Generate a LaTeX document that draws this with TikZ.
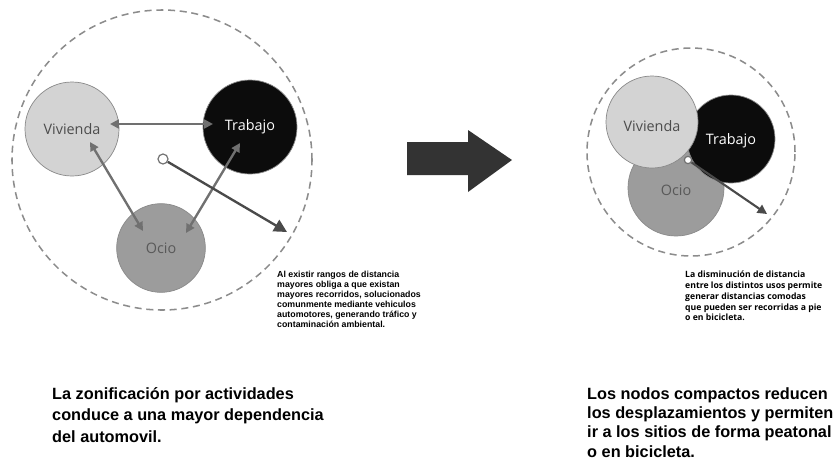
\documentclass[tikz,border=0pt]{standalone}
\usepackage{fontspec}
\usepackage{tikz}
\usetikzlibrary{arrows.meta}
\newfontfamily\labelfont{Open Sans}
\newfontfamily\capfont{Liberation Sans}
\definecolor{lightuse}{HTML}{D3D3D3}
\definecolor{darkuse}{HTML}{0C0C0C}
\definecolor{miduse}{HTML}{9C9C9C}
\definecolor{rimgray}{HTML}{8A8A8A}
\definecolor{dashgray}{HTML}{8C8C8C}
\definecolor{linkgray}{HTML}{707070}
\definecolor{cargray}{HTML}{4A4A4A}
\definecolor{bigarrow}{HTML}{333333}

\begin{document}
\begin{tikzpicture}[x=0.03cm, y=-0.03cm,
    zone/.style={circle, draw=dashgray, line width=1.3pt, dash pattern=on 6pt off 4pt},
    landuse/.style={circle, draw=rimgray, line width=0.6pt, inner sep=0pt,
        font=\labelfont\fontsize{12.3}{14}\selectfont},
    hub/.style={circle, draw=linkgray, fill=white, line width=1pt, inner sep=0pt},
    link/.style={draw=linkgray, line width=2pt,
        {Triangle[length=7.5pt,width=7.5pt]}-{Triangle[length=7.5pt,width=7.5pt]}},
    car/.style={draw=cargray, line width=2pt, -{Triangle[length=11pt,width=11pt]}},
    note/.style={anchor=north west, inner sep=0pt, align=left},
    caption/.style={anchor=north west, inner sep=0pt, align=left}]
    \fill[white] (0,0) rectangle (836,465);
    \useasboundingbox (0,0) rectangle (836,465);
    % zoned city
    \node[zone, minimum size=9cm] (zoneL) at (162, 160) {};
    \node[landuse, fill=lightuse, minimum size=2.82cm, text=black!70] (vivL) at (72, 129) {Vivienda};
    \node[landuse, fill=darkuse, minimum size=2.82cm, text=white] (trabL) at (250, 127) {Trabajo};
    \node[landuse, fill=miduse, minimum size=2.66cm, text=black!65] (ocioL) at (161, 248) {Ocio};
    \node[hub, minimum size=0.3cm] (hubL) at (163, 159) {};
    \coordinate (outL) at (287, 232);
    % trips between uses
    \draw[link] ([shift={(38,-5)}]vivL.center) -- ([shift={(-37,-3)}]trabL.center);
    \draw[link] ([shift={(18,13)}]vivL.center) -- ([shift={(-18,-17)}]ocioL.center);
    \draw[link] ([shift={(-10,16)}]trabL.center) -- ([shift={(25,-15)}]ocioL.center);
    \draw[car] (hubL) -- (outL);
    % big arrow
    \fill[bigarrow] (407,142) -- (468,142) -- (468,130) -- (512,160)
        -- (468,192) -- (468,175) -- (407,175) -- cycle;
    % compact city
    \node[zone, minimum size=6.24cm] (zoneR) at (691, 152) {};
    \node[landuse, fill=miduse, minimum size=2.88cm, text=black!65] (ocioR) at (676, 188) {};
    \node[landuse, fill=darkuse, minimum size=2.64cm, text=white] (trabR) at (731, 139) {};
    \node[landuse, fill=lightuse, minimum size=2.76cm, text=black!70] (vivR) at (652, 122) {};
    \node[landuse, draw=none, text=black!70] (vivRtext) at (652, 126) {Vivienda};
    \node[landuse, draw=none, text=white] (trabRtext) at (731, 141) {Trabajo};
    \node[landuse, draw=none, text=black!65] (ocioRtext) at (676, 190) {Ocio};
    \node[hub, minimum size=0.22cm] (hubR) at (688, 160) {};
    \coordinate (outR) at (767, 214);
    \draw[car, line width=1.8pt, -{Triangle[length=8pt,width=8pt]}] (hubR) -- (outR);
    % notes
    \node[note, font=\capfont\bfseries\fontsize{7.5}{8.6}\selectfont] (noteL) at (277, 271)
        {Al existir rangos de distancia\\mayores obliga a que existan\\mayores recorridos, solucionados\\comunmente mediante vehiculos\\automotores, generando tráfico y\\contaminación ambiental.};
    \node[note, font=\labelfont\bfseries\fontsize{7.4}{9.2}\selectfont] (noteR) at (685, 271)
        {La disminución de distancia\\entre los distintos usos permite\\generar distancias comodas\\que pueden ser recorridas a pie\\o en bicicleta.};
    % captions
    \node[caption, font=\capfont\bfseries\fontsize{13.9}{18.4}\selectfont] (capL) at (52, 387)
        {La zonificación por actividades\\conduce a una mayor dependencia\\del automovil.};
    \node[caption, font=\capfont\bfseries\fontsize{13.9}{16.6}\selectfont] (capR) at (587, 387)
        {Los nodos compactos reducen\\los desplazamientos y permiten\\ir a los sitios de forma peatonal\\o en bicicleta.};
\end{tikzpicture}
\end{document}
